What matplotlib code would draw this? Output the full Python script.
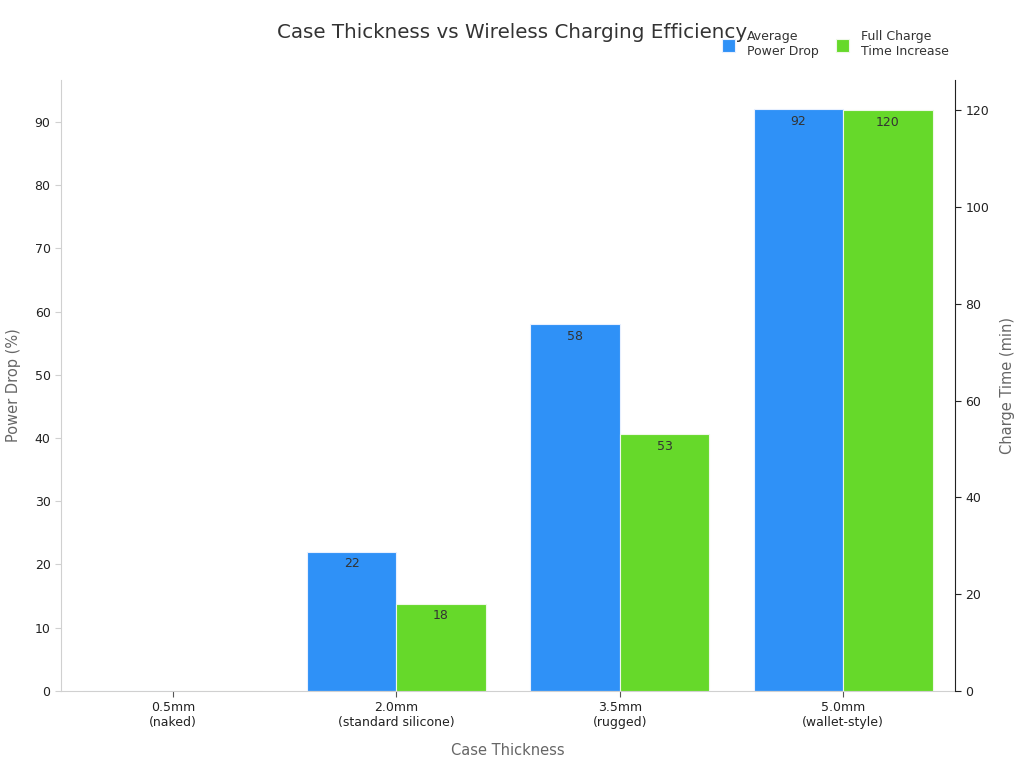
import matplotlib
matplotlib.use("Agg")
import matplotlib.pyplot as plt
import numpy as np

# --- datos ---
categorias = ["0.5mm\n(naked)", "2.0mm\n(standard silicone)", "3.5mm\n(rugged)", "5.0mm\n(wallet-style)"]
caida_potencia = [0, 22, 58, 92]
tiempo_carga = [0, 18, 53, 120]

azul = "#2f91f7"
verde = "#66d92a"
gris_eje = "#d0d0d0"

fig = plt.figure(figsize=(10.24, 7.68), dpi=100)
ax = fig.add_axes([0.0596, 0.1003, 0.873, 0.7955])
ax2 = ax.twinx()

x = np.arange(len(categorias))
ancho = 0.4

b1 = ax.bar(x - ancho / 2, caida_potencia, ancho, color=azul, edgecolor="#e8f0ff", linewidth=0.8, label="Average\nPower Drop")
b2 = ax2.bar(x + ancho / 2, tiempo_carga, ancho, color=verde, edgecolor="#eef8e8", linewidth=0.8, label="Full Charge\nTime Increase")

for rect, v in zip(b1, caida_potencia):
    if v > 0:
        ax.annotate(str(v), (rect.get_x() + rect.get_width() / 2, v), xytext=(0, -4),
                    textcoords="offset points", ha="center", va="top", fontsize=9, color="#333333")
for rect, v in zip(b2, tiempo_carga):
    if v > 0:
        ax2.annotate(str(v), (rect.get_x() + rect.get_width() / 2, v), xytext=(0, -4),
                     textcoords="offset points", ha="center", va="top", fontsize=9, color="#333333")

ax.set_xlim(-0.5, 3.5)
ax.set_ylim(0, 96.6)
ax2.set_ylim(0, 126.2)
ax.set_yticks(np.arange(0, 100, 10))
ax2.set_yticks(np.arange(0, 121, 20))

ax.set_xticks(x)
ax.set_xticklabels(categorias, fontsize=9, color="#222222")
ax.tick_params(axis="y", labelsize=9, colors="#222222", length=4, color=gris_eje)
ax.tick_params(axis="x", length=4, color="#555555")
ax2.tick_params(axis="y", labelsize=9, colors="#222222", length=4, color="#222222")

for a in (ax, ax2):
    a.spines["top"].set_visible(False)
ax.spines["left"].set_color(gris_eje)
ax.spines["bottom"].set_color(gris_eje)
ax.spines["right"].set_visible(False)
ax2.spines["left"].set_visible(False)
ax2.spines["bottom"].set_visible(False)
ax2.spines["right"].set_color("#222222")

ax.set_xlabel("Case Thickness", fontsize=10.5, color="#666666", labelpad=10)
ax.set_ylabel("Power Drop (%)", fontsize=10.5, color="#666666", labelpad=10)
ax2.set_ylabel("Charge Time (min)", fontsize=10.5, color="#666666", labelpad=8)

fig.suptitle("Case Thickness vs Wireless Charging Efficiency", x=0.5, y=0.97, fontsize=14.3, color="#333333")

h = [b1, b2]
fig.legend(h, [b1.get_label(), b2.get_label()], loc="upper right", bbox_to_anchor=(0.938, 0.975),
           ncol=2, frameon=False, fontsize=9, handlelength=1.0, handleheight=1.2,
           columnspacing=1.4, handletextpad=1.0, labelcolor="#333333")

fig.savefig("out.png", dpi=100)
